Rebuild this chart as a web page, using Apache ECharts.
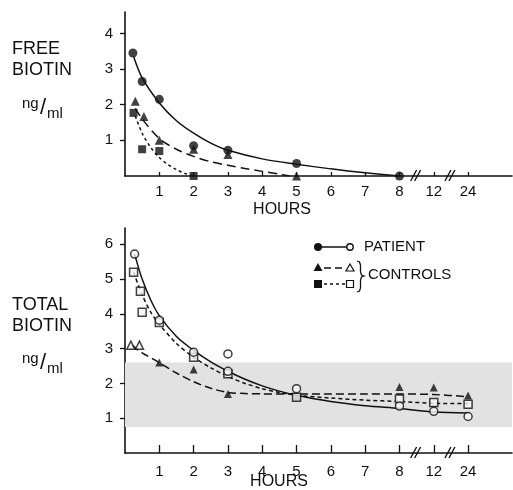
<!DOCTYPE html>
<html><head><meta charset="utf-8">
<script src="https://cdn.jsdelivr.net/npm/echarts@6/dist/echarts.min.js"></script>
<style>html,body{margin:0;padding:0;background:#fff}#c{width:513px;height:490px}</style>
</head><body><div id="c"></div>
<script>
// ---- axis categories (hours, broken axis after 8) ----
const hourValues = [1, 2, 3, 4, 5, 6, 7, 8, 12, 24];
const hourTicks  = ['1', '2', '3', '4', '5', '6', '7', '8', '12', '24'];
const freeTicks  = [1, 2, 3, 4];
const totalTicks = [1, 2, 3, 4, 5, 6];
const normalRange = [0.75, 2.6];   // shaded normal range, total biotin ng/ml

// ---- FREE BIOTIN (top panel) ----
const freePatT   = [0.23, 0.5, 1, 2, 3, 5, 8];
const freePatV   = [3.45, 2.65, 2.15, 0.85, 0.72, 0.35, 0];
const freeCtrlAT = [0.3, 0.55, 1, 2, 3, 5];
const freeCtrlAV = [2.1, 1.67, 1.0, 0.75, 0.6, 0];
const freeCtrlBT = [0.25, 0.5, 1, 2];
const freeCtrlBV = [1.77, 0.75, 0.7, 0];
// fitted curves
const freePatCurveT   = [0.25, 0.5, 1, 1.5, 2, 2.5, 3, 4, 5, 6, 7, 8];
const freePatCurveV   = [3.35, 2.75, 2.05, 1.55, 1.2, 0.92, 0.72, 0.48, 0.33, 0.2, 0.09, 0];
const freeCtrlACurveT = [0.3, 0.5, 1, 1.5, 2, 2.5, 3, 3.5, 4, 4.5, 4.8];
const freeCtrlACurveV = [1.9, 1.6, 1.05, 0.75, 0.55, 0.4, 0.3, 0.21, 0.13, 0.05, 0];
const freeCtrlBCurveT = [0.3, 0.5, 0.75, 1, 1.25, 1.5, 1.75, 2];
const freeCtrlBCurveV = [1.68, 1.2, 0.8, 0.52, 0.32, 0.18, 0.07, 0];

// ---- TOTAL BIOTIN (bottom panel) ----
const totPatT       = [0.28, 1, 2, 3, 3, 5, 8, 12, 24];
const totPatV       = [5.72, 3.82, 2.9, 2.85, 2.35, 1.85, 1.35, 1.2, 1.05];
const totCtrlBT     = [0.25, 0.45, 0.5, 1, 2, 3, 5, 8, 12, 24];
const totCtrlBV     = [5.2, 4.65, 4.05, 3.75, 2.75, 2.28, 1.6, 1.55, 1.45, 1.4];
const totCtrlAOpenT = [0.17, 0.42];
const totCtrlAOpenV = [3.1, 3.1];
const totCtrlAFillT = [1, 2, 3, 5, 8, 12, 24];
const totCtrlAFillV = [2.6, 2.4, 1.7, 1.62, 1.9, 1.88, 1.65];
// fitted curves
const totPatCurveT   = [0.28, 0.5, 0.75, 1, 1.5, 2, 2.5, 3, 3.5, 4, 4.5, 5, 6, 7, 8, 12, 24];
const totPatCurveV   = [5.72, 5.0, 4.4, 3.95, 3.35, 2.95, 2.62, 2.35, 2.12, 1.93, 1.78, 1.66, 1.48, 1.36, 1.28, 1.18, 1.15];
const totCtrlBCurveT = [0.25, 0.5, 0.75, 1, 1.5, 2, 2.5, 3, 3.5, 4, 4.5, 5, 6, 7, 8, 12, 24];
const totCtrlBCurveV = [5.2, 4.55, 4.05, 3.7, 3.15, 2.75, 2.45, 2.2, 2.0, 1.85, 1.74, 1.66, 1.58, 1.52, 1.48, 1.43, 1.42];
const totCtrlACurveT = [0.2, 0.5, 1, 1.5, 2, 2.5, 3, 3.5, 4, 5, 6, 7, 8, 12, 24];
const totCtrlACurveV = [3.1, 2.88, 2.6, 2.3, 2.05, 1.86, 1.74, 1.71, 1.7, 1.7, 1.7, 1.7, 1.7, 1.68, 1.62];

// ---- helpers ----
// axis position of an hour value on the broken axis (8 -> 8, 12 -> 9, 24 -> 10)
function pos(h) { return h <= 8 ? h : hourValues.indexOf(h) + 1; }
function pts(T, V) { return T.map((t, i) => [pos(t), V[i]]); }
const tickPos = hourValues.map(pos);
const breaks = [ (pos(8) + pos(12)) / 2, (pos(12) + pos(24)) / 2 ];

const INK = '#111';
const FONT = 'Liberation Sans';

function xAx(gi, tickLen, margin) {
  return {
    gridIndex: gi, type: 'value', min: 0, max: 11.28,
    axisLine: { show: true, onZero: false, lineStyle: { color: INK, width: 1.6 } },
    axisTick: { show: true, inside: true, length: tickLen, customValues: tickPos, lineStyle: { color: INK, width: 1.3 } },
    axisLabel: { customValues: tickPos, margin: margin, color: INK, fontFamily: FONT, fontSize: 15,
      formatter: v => { const i = tickPos.indexOf(v); return i >= 0 ? hourTicks[i] : ''; } },
    splitLine: { show: false }
  };
}
function yAx(gi, max, ticks) {
  return {
    gridIndex: gi, type: 'value', min: 0, max: max,
    axisLine: { show: true, lineStyle: { color: INK, width: 1.6 } },
    axisTick: { show: true, length: 5, customValues: ticks, lineStyle: { color: INK, width: 1.3 } },
    axisLabel: { customValues: ticks, margin: 12, color: INK, fontFamily: FONT, fontSize: 15,
      formatter: v => ticks.indexOf(v) >= 0 ? String(v) : '' },
    splitLine: { show: false }
  };
}
function curve(gi, T, V, type) {
  return { type: 'line', xAxisIndex: gi, yAxisIndex: gi, data: pts(T, V), symbol: 'none',
    smooth: 0.3, z: 3, silent: true,
    lineStyle: { color: INK, width: 1.5, type: type } };
}
function dots(gi, T, V, symbol, size, filled) {
  return { type: 'scatter', xAxisIndex: gi, yAxisIndex: gi, data: pts(T, V), symbol: symbol,
    symbolSize: size, z: 5,
    itemStyle: filled ? { color: INK } : { color: '#f6f6f6', borderColor: INK, borderWidth: 1.5 } };
}
function breakSeries(gi) {
  return { type: 'custom', xAxisIndex: gi, yAxisIndex: gi, z: 6, silent: true,
    data: breaks.map(b => [b, 0]),
    renderItem: (params, api) => {
      const p = api.coord([api.value(0), api.value(1)]);
      const mk = dx => ({ type: 'line', shape: { x1: p[0] + dx - 4, y1: p[1] + 5, x2: p[0] + dx + 2, y2: p[1] - 6 },
        style: { stroke: INK, lineWidth: 1.4 } });
      return { type: 'group', children: [mk(-2), mk(2)] };
    } };
}

const chart = echarts.init(document.getElementById('c'), null, { renderer: 'canvas' });
chart.setOption({
  animation: false,
  backgroundColor: '#fff',
  grid: [
    { left: 125, top: 12, width: 387, height: 164 },
    { left: 125, top: 228, width: 387, height: 225 }
  ],
  xAxis: [ xAx(0, 4, 8), xAx(1, 8, 11) ],
  yAxis: [ yAx(0, 4.6, freeTicks), yAx(1, 6.47, totalTicks) ],
  series: [
    // shaded normal range
    { type: 'line', xAxisIndex: 1, yAxisIndex: 1, data: [], z: 1, silent: true,
      markArea: { silent: true, itemStyle: { color: '#e2e2e2' },
        data: [[{ yAxis: normalRange[0] }, { yAxis: normalRange[1] }]] } },
    // top panel
    curve(0, freePatCurveT, freePatCurveV, 'solid'),
    curve(0, freeCtrlACurveT, freeCtrlACurveV, [9, 5]),
    curve(0, freeCtrlBCurveT, freeCtrlBCurveV, [3, 3]),
    dots(0, freePatT, freePatV, 'circle', 9, true),
    dots(0, freeCtrlAT, freeCtrlAV, 'triangle', 9, true),
    dots(0, freeCtrlBT, freeCtrlBV, 'rect', 8, true),
    breakSeries(0),
    // bottom panel
    curve(1, totPatCurveT, totPatCurveV, 'solid'),
    curve(1, totCtrlACurveT, totCtrlACurveV, [8, 4]),
    curve(1, totCtrlBCurveT, totCtrlBCurveV, [4, 3]),
    dots(1, totCtrlAFillT, totCtrlAFillV, 'triangle', 8, true),
    dots(1, totCtrlAOpenT, totCtrlAOpenV, 'triangle', 8, false),
    dots(1, totCtrlBT, totCtrlBV, 'rect', 8, false),
    dots(1, totPatT, totPatV, 'circle', 8, false),
    breakSeries(1)
  ],
  graphic: [
    // panel titles
    { type: 'text', left: 12, top: 40, style: { text: 'FREE', font: '18px "Liberation Sans"', fill: INK } },
    { type: 'text', left: 12, top: 61, style: { text: 'BIOTIN', font: '18px "Liberation Sans"', fill: INK } },
    { type: 'text', left: 22, top: 96, style: { text: 'ng', font: '15px "Liberation Sans"', fill: INK } },
    { type: 'text', left: 40, top: 97, style: { text: '/', font: '22px "Liberation Sans"', fill: INK } },
    { type: 'text', left: 47, top: 106, style: { text: 'ml', font: '15px "Liberation Sans"', fill: INK } },
    { type: 'text', left: 12, top: 296, style: { text: 'TOTAL', font: '18px "Liberation Sans"', fill: INK } },
    { type: 'text', left: 12, top: 317, style: { text: 'BIOTIN', font: '18px "Liberation Sans"', fill: INK } },
    { type: 'text', left: 22, top: 351, style: { text: 'ng', font: '15px "Liberation Sans"', fill: INK } },
    { type: 'text', left: 40, top: 352, style: { text: '/', font: '22px "Liberation Sans"', fill: INK } },
    { type: 'text', left: 47, top: 361, style: { text: 'ml', font: '15px "Liberation Sans"', fill: INK } },
    // axis titles
    { type: 'text', x: 282, y: 210, style: { text: 'HOURS', font: '16px "Liberation Sans"', fill: INK, align: 'center', verticalAlign: 'middle' } },
    { type: 'text', x: 279, y: 482, style: { text: 'HOURS', font: '16px "Liberation Sans"', fill: INK, align: 'center', verticalAlign: 'middle' } },
    // legend
    { type: 'circle', shape: { cx: 318, cy: 247, r: 4 }, style: { fill: INK } },
    { type: 'line', shape: { x1: 321, y1: 247, x2: 347, y2: 247 }, style: { stroke: INK, lineWidth: 1.5 } },
    { type: 'circle', shape: { cx: 350, cy: 247, r: 3.2 }, style: { fill: '#fff', stroke: INK, lineWidth: 1.4 } },
    { type: 'text', x: 364, y: 247, style: { text: 'PATIENT', font: '15px "Liberation Sans"', fill: INK, verticalAlign: 'middle' } },
    { type: 'polygon', shape: { points: [[318, 263], [322.5, 271], [313.5, 271]] }, style: { fill: INK } },
    { type: 'line', shape: { x1: 324, y1: 268, x2: 346, y2: 268 }, style: { stroke: INK, lineWidth: 1.4, lineDash: [7, 4] } },
    { type: 'polygon', shape: { points: [[350, 264], [354, 271], [346, 271]] }, style: { fill: '#fff', stroke: INK, lineWidth: 1.2 } },
    { type: 'rect', shape: { x: 314, y: 280, width: 8, height: 8 }, style: { fill: INK } },
    { type: 'line', shape: { x1: 324, y1: 284, x2: 346, y2: 284 }, style: { stroke: INK, lineWidth: 1.4, lineDash: [3, 3] } },
    { type: 'rect', shape: { x: 346.5, y: 280.5, width: 7, height: 7 }, style: { fill: '#fff', stroke: INK, lineWidth: 1.2 } },
    { type: 'polyline', shape: { points: [[357, 261], [359.5, 262], [360.5, 265], [360.5, 272], [361.5, 275], [364, 276],
        [361.5, 277], [360.5, 280], [360.5, 288], [359.5, 291], [357, 292]] },
      style: { fill: null, stroke: INK, lineWidth: 1.3 } },
    { type: 'text', x: 368, y: 275, style: { text: 'CONTROLS', font: '15px "Liberation Sans"', fill: INK, verticalAlign: 'middle' } }
  ]
});
</script>
</body></html>
